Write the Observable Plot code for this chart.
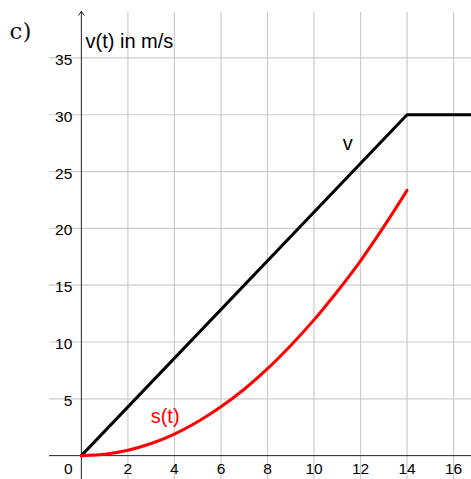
<!DOCTYPE html>
<html>
<head>
<meta charset="utf-8">
<script src="https://cdn.jsdelivr.net/npm/d3@7"></script>
<script src="https://cdn.jsdelivr.net/npm/@observablehq/plot@0.6"></script>
<style>
  html, body { margin: 0; padding: 0; background: #fff; }
  #chart svg { display: block; }
</style>
</head>
<body>
<div id="chart"></div>
<script>
// velocity v(t): piecewise linear
const vT = [0, 14, 16.8];
const vV = [0, 30, 30];

// distance s(t)
const sT = [0, 1, 2, 3, 4, 5, 6, 7, 8, 9, 10, 11, 12, 13, 14];
const sV = [0, 0.12, 0.48, 1.07, 1.9, 2.98, 4.3, 5.84, 7.65, 9.7, 11.95, 14.45, 17.15, 20.15, 23.35];

// tick labels
const xTicks = [2, 4, 6, 8, 10, 12, 14, 16];
const yTicks = [5, 10, 15, 20, 25, 30, 35];

// curve labels
const labelText = ["v", "s(t)"];
const labelX = [11.45, 3.6];
const labelY = [27.5, 3.4];
const labelColor = ["black", "red"];

const vData = vT.map((t, i) => ({t, v: vV[i]}));
const sData = sT.map((t, i) => ({t, s: sV[i]}));
const labels = labelText.map((text, i) => ({text, x: labelX[i], y: labelY[i], color: labelColor[i]}));

const font = "'Liberation Sans', Arial, sans-serif";

const chart = Plot.plot({
  width: 471,
  height: 479,
  marginLeft: 49,
  marginRight: 0,
  marginTop: 12,
  marginBottom: 0,
  style: {fontFamily: font, background: "white", overflow: "visible"},
  x: {domain: [-1.37, 16.77], axis: null},
  y: {domain: [-2.1, 39], axis: null},
  marks: [
    Plot.ruleX(xTicks, {stroke: "#cccccc", strokeWidth: 1.2}),
    Plot.ruleY(yTicks, {stroke: "#cccccc", strokeWidth: 1.2}),
    Plot.ruleY([0], {stroke: "#222", strokeWidth: 1}),
    Plot.arrow([0], {x1: 0, y1: -2.1, x2: 0, y2: 39.1, stroke: "#222", strokeWidth: 1, headLength: 7, headAngle: 70}),
    Plot.text(yTicks, {x: 0, y: d => d, text: d => String(d), textAnchor: "end", dx: -9, dy: 2, fontSize: 15.5, fill: "#000"}),
    Plot.text(xTicks, {x: d => d, y: 0, text: d => String(d), dy: 13, fontSize: 15.5, fill: "#000"}),
    Plot.text([0], {x: 0, y: 0, text: d => String(d), dx: -13, dy: 13, fontSize: 15.5, fill: "#000"}),
    Plot.line(vData, {x: "t", y: "v", stroke: "black", strokeWidth: 3}),
    Plot.line(sData, {x: "t", y: "s", stroke: "red", strokeWidth: 3, curve: "catmull-rom"}),
    Plot.text(labels, {x: "x", y: "y", text: "text", fill: "color", fontSize: 20}),
    Plot.text(["v(t) in m/s"], {frameAnchor: "top-left", dx: 36, dy: 21, textAnchor: "start", fontSize: 20, fill: "#000"}),
    Plot.text(["c)"], {frameAnchor: "top-left", dx: -40, dy: 10, textAnchor: "start", fontSize: 23, fontFamily: "'DejaVu Serif', 'Liberation Serif', serif", fill: "#111"})
  ]
});
document.getElementById("chart").appendChild(chart);
</script>
</body>
</html>
